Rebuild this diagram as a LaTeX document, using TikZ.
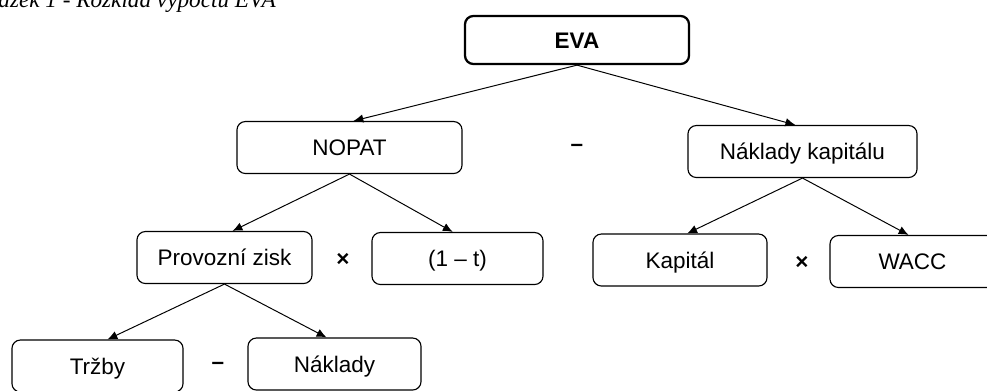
\documentclass[tikz,border=0pt]{standalone}
\usepackage{fontspec}
\setmainfont{Liberation Sans}
\newfontfamily\captionfont{Liberation Serif}
\usetikzlibrary{arrows,arrows.meta,positioning}

\begin{document}
\begin{tikzpicture}[x=0.025cm,y=-0.025cm,
  box/.style={draw, rounded corners=6pt, line width=0.8pt, minimum height=1.3cm, inner sep=0pt, text height=11.5pt, text depth=0pt, font=\fontsize{16}{19}\selectfont},
  op/.style={font=\fontsize{16}{19}\selectfont\bfseries},
  arr/.style={-{Latex[length=7pt,width=6pt]}, line width=0.7pt}]
\useasboundingbox (0,0) rectangle (987,390);
\clip (0,0) rectangle (987,390);

\node[anchor=base east, inner sep=0pt, font=\captionfont\itshape\fontsize{16.5}{20}\selectfont] (cap) at (276,7.5) {Obrázek 1 - Rozklad výpočtu EVA};

\node[box, line width=1.6pt, minimum width=5.6cm, minimum height=1.2cm, font=\fontsize{16}{19}\selectfont\bfseries] (eva) at (577,40) {EVA};
\node[box, minimum width=5.625cm] (nopat) at (349.5,147.5) {NOPAT};
\node[box, minimum width=5.725cm] (nklad) at (802.5,151.5) {Náklady kapitálu};
\node[op] (minus1) at (577,148) {--};

\node[box, minimum width=4.375cm] (prov) at (224.5,257.5) {Provozní zisk};
\node[box, minimum width=4.275cm] (dan) at (457.5,258.5) {(1 -- t)};
\node[op] (krat1) at (343,260) {×};
\node[box, minimum width=4.35cm] (kap) at (680,260) {Kapitál};
\node[box, minimum width=4.125cm] (wacc) at (912.5,261.5) {WACC};
\node[op] (krat2) at (802,263) {×};

\node[box, minimum width=4.275cm] (trzby) at (97.5,366) {Tržby};
\node[box, minimum width=4.325cm] (naklady) at (334.5,364) {Náklady};
\node[op] (minus2) at (218,366) {--};

\draw[arr] (eva.south) -- ([xshift=0.1cm]nopat.north);
\draw[arr] (eva.south) -- ([xshift=-0.18cm]nklad.north);
\draw[arr] (nopat.south) -- ([xshift=0.2cm]prov.north);
\draw[arr] (nopat.south) -- ([xshift=-0.12cm]dan.north);
\draw[arr] (nklad.south) -- ([xshift=0.18cm]kap.north);
\draw[arr] (nklad.south) -- ([xshift=-0.1cm]wacc.north);
\draw[arr] (prov.south) -- ([xshift=0.25cm]trzby.north);
\draw[arr] (prov.south) -- ([xshift=-0.2cm]naklady.north);
\end{tikzpicture}
\end{document}
